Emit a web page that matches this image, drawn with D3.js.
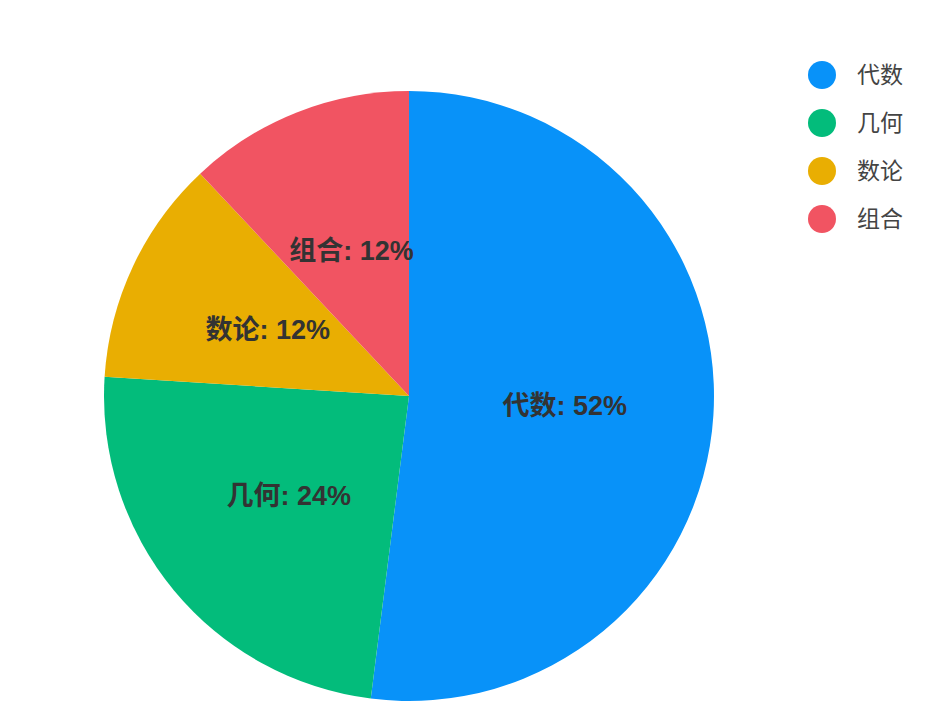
<!DOCTYPE html>
<html>
<head>
<meta charset="utf-8">
<script src="https://cdn.jsdelivr.net/npm/d3@7/dist/d3.min.js"></script>
<style>
  html, body { margin: 0; padding: 0; background: #ffffff; }
  svg { display: block; }
</style>
</head>
<body>
<div id="chart"></div>
<script>
// Chart data
const categories = ['代数', '几何', '数论', '组合']
const shares = [52, 24, 12, 12]
const colors = ['#0892f9', '#03bc7b', '#e9ae02', '#f15462']

const width = 952
const height = 720
const cx = 409, cy = 396
const radius = 305
const labelRadius = 156

const svg = d3.select('#chart').append('svg')
  .attr('width', width)
  .attr('height', height)

const color = d3.scaleOrdinal().domain(categories).range(colors)

const data = categories.map((c, i) => ({ name: c, value: shares[i] }))
const pie = d3.pie().value(d => d.value).sort(null)
const arcs = pie(data)

const arc = d3.arc().innerRadius(0).outerRadius(radius)
const labelArc = d3.arc().innerRadius(labelRadius).outerRadius(labelRadius)

const g = svg.append('g').attr('transform', `translate(${cx},${cy})`)

g.selectAll('path.slice')
  .data(arcs)
  .join('path')
  .attr('class', 'slice')
  .attr('d', arc)
  .attr('fill', d => color(d.data.name))

g.selectAll('text.label')
  .data(arcs)
  .join('text')
  .attr('class', 'label')
  .attr('transform', d => `translate(${labelArc.centroid(d)})`)
  .attr('text-anchor', 'middle')
  .attr('dy', '0.35em')
  .attr('font-family', "'Liberation Sans', Arial, 'Noto Sans CJK SC', sans-serif")
  .attr('font-weight', 'bold')
  .attr('font-size', 27)
  .attr('fill', '#333333')
  .text(d => `${d.data.name}: ${d.data.value}%`)

// Legend on the right
const legend = svg.append('g').attr('transform', 'translate(822,75)')
const rows = legend.selectAll('g')
  .data(categories)
  .join('g')
  .attr('transform', (d, i) => `translate(0,${i * 48})`)
rows.append('circle')
  .attr('r', 14)
  .attr('fill', d => color(d))
rows.append('text')
  .attr('x', 35)
  .attr('dy', '0.35em')
  .attr('font-family', "'Noto Sans CJK SC', sans-serif")
  .attr('font-size', 23)
  .attr('fill', '#444444')
  .text(d => d)
</script>
</body>
</html>
